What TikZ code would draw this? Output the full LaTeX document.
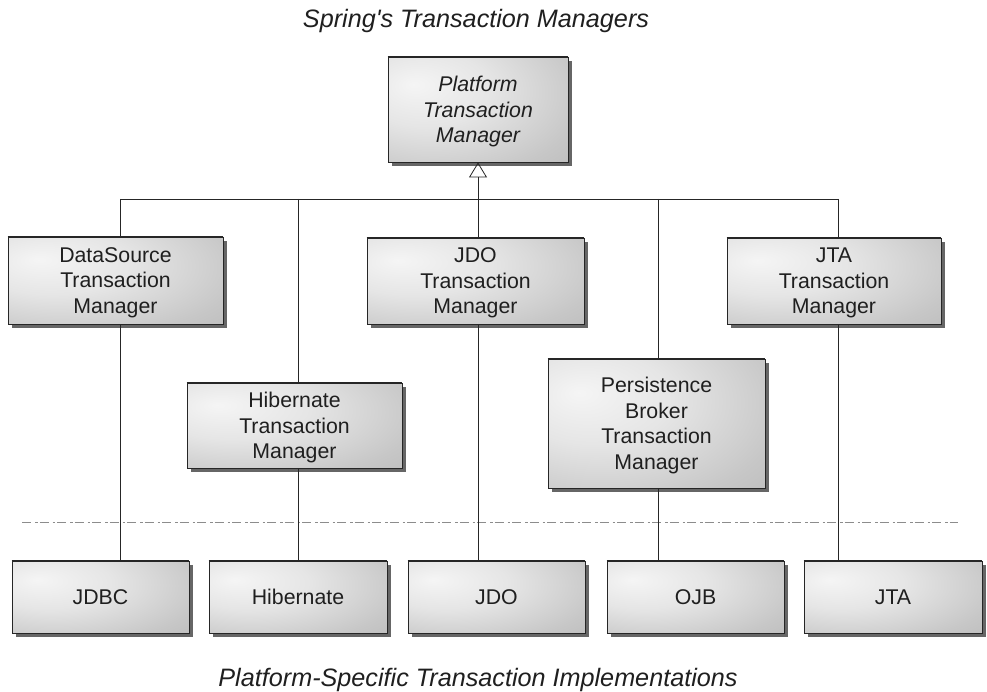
\documentclass[tikz,border=0pt]{standalone}
\usepackage{fontspec}
\setmainfont{Liberation Sans}
\usetikzlibrary{arrows.meta,shadows}
\pgfdeclareradialshading{boxshade}{\pgfpoint{-18bp}{12bp}}{color(0bp)=(black!4); color(18bp)=(black!10); color(40bp)=(black!22); color(65bp)=(black!32); color(100bp)=(black!38)}
\begin{document}
\begin{tikzpicture}[x=1pt,y=-1pt,
  box/.style={draw=black!85, line width=0.8pt, shading=boxshade,
    drop shadow={shadow xshift=4pt, shadow yshift=-4pt, fill=black!60, opacity=1},
    inner sep=0pt, text depth=0pt, align=center, font=\fontsize{21.3}{25.5}\selectfont, text=black!88},
  titletext/.style={font=\fontsize{25.2}{29}\selectfont\itshape, text=black!88},
  conn/.style={line width=0.8pt, draw=black!85},
  topedge/.style={line width=1.8pt, draw=black!85}]
\useasboundingbox (0,0) rectangle (987,692);

% titles
\node[titletext] (t1) at (476,21) {Spring\textquotesingle s Transaction Managers};
\node[titletext] (t2) at (478,680) {Platform-Specific Transaction Implementations};

% top interface
\node[box, minimum width=180pt, minimum height=105pt] (ptm) at (478,109.5) {\itshape Platform\\\itshape Transaction\\\itshape Manager};

% middle row
\node[box, minimum width=215pt, minimum height=87pt] (ds) at (115.5,280.5) {DataSource\\Transaction\\Manager};
\node[box, minimum width=217pt, minimum height=86pt] (jdotm) at (475.5,281) {JDO\\Transaction\\Manager};
\node[box, minimum width=214pt, minimum height=86pt] (jtatm) at (834,281) {JTA\\Transaction\\Manager};
\node[box, minimum width=215pt, minimum height=85pt] (hibtm) at (294.5,425.5) {Hibernate\\Transaction\\Manager};
\node[box, minimum width=217pt, minimum height=129pt] (pbtm) at (656.5,423.5) {Persistence\\Broker\\Transaction\\Manager};

% bottom row
\node[box, minimum width=177pt, minimum height=72pt] (jdbc) at (100.5,597) {JDBC};
\node[box, minimum width=178pt, minimum height=72pt] (hib) at (298,597) {Hibernate};
\node[box, minimum width=177pt, minimum height=72pt] (jdo) at (496.5,597) {JDO};
\node[box, minimum width=177pt, minimum height=72pt] (ojb) at (695.5,597) {OJB};
\node[box, minimum width=178pt, minimum height=72pt] (jta) at (893,597) {JTA};

% thicker top edges
\foreach \n in {ptm,ds,jdotm,jtatm,hibtm,pbtm,jdbc,hib,jdo,ojb,jta}
  \draw[topedge] (\n.north west) -- (\n.north east);

% separator
\coordinate (sepL) at (22,522);
\coordinate (sepR) at (958,522);
\draw[black!45, line width=0.9pt, dash pattern=on 9pt off 4pt on 2.5pt off 2pt] (sepL) -- (sepR);

% bus
\coordinate (b1) at (120,199);
\coordinate (b2) at (298,199);
\coordinate (b3) at (478,199);
\coordinate (b4) at (658,199);
\coordinate (b5) at (838,199);
\draw[conn] (b1) -- (b5);
\draw[conn, -{Triangle[open, length=15pt, width=18pt]}] (b3) -- (ptm.south);

\draw[conn] (b1) -- (b1 |- ds.north);
\draw[conn] (b2) -- (b2 |- hibtm.north);
\draw[conn] (b3) -- (b3 |- jdotm.north);
\draw[conn] (b4) -- (b4 |- pbtm.north);
\draw[conn] (b5) -- (b5 |- jtatm.north);

\draw[conn] (b1 |- ds.south) -- (b1 |- jdbc.north);
\draw[conn] (b2 |- hibtm.south) -- (b2 |- hib.north);
\draw[conn] (b3 |- jdotm.south) -- (b3 |- jdo.north);
\draw[conn] (b4 |- pbtm.south) -- (b4 |- ojb.north);
\draw[conn] (b5 |- jtatm.south) -- (b5 |- jta.north);
\end{tikzpicture}
\end{document}
